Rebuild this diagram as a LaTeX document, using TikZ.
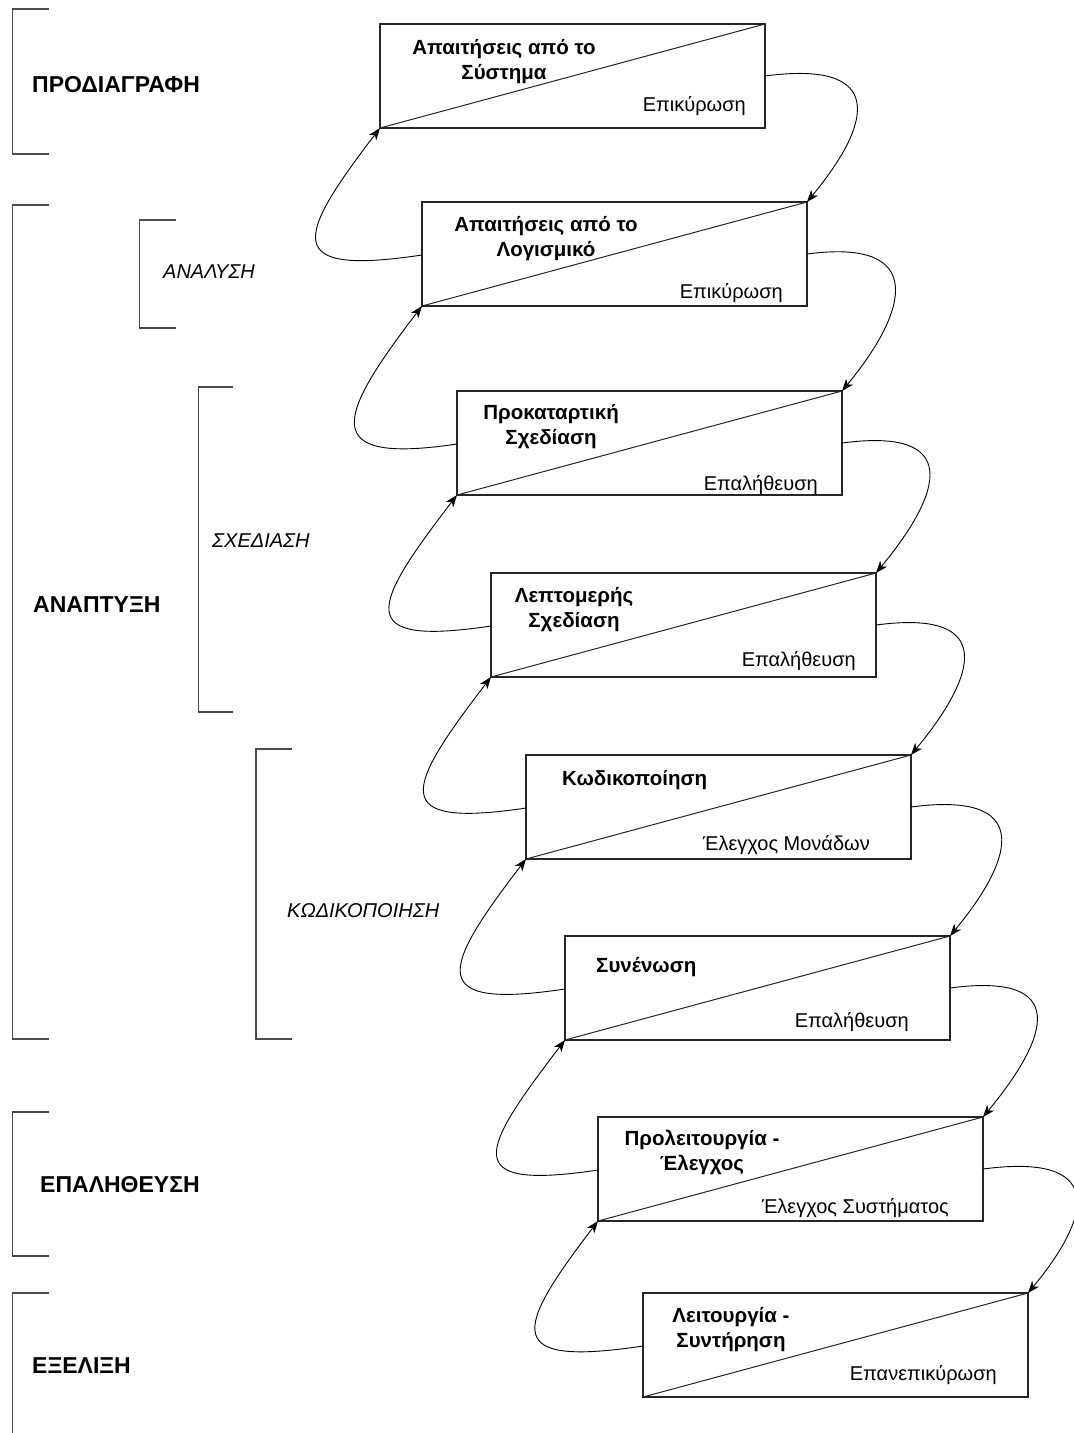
\documentclass[tikz,border=0pt]{standalone}
\usepackage{fontspec}
\setmainfont{Liberation Sans}
\usetikzlibrary{arrows.meta,calc}

\begin{document}
\begin{tikzpicture}[x=1pt,y=-1pt,
  stagebox/.style={draw=black!85, line width=1.2pt, outer sep=0pt, inner sep=0pt,
    minimum width=385pt, minimum height=104pt, anchor=north west},
  title/.style={font=\fontsize{20.5}{24.5}\selectfont\bfseries, align=center, inner sep=0pt, anchor=base},
  titlew/.style={font=\fontsize{20.5}{24.5}\selectfont\bfseries, inner sep=0pt, anchor=base west},
  check/.style={font=\fontsize{20}{24}\selectfont, inner sep=0pt, anchor=base east},
  phase/.style={font=\fontsize{23}{27}\selectfont\bfseries, inner sep=0pt, anchor=base west},
  subphase/.style={font=\fontsize{20}{24}\selectfont\itshape, inner sep=0pt, anchor=base west},
  bracket/.style={draw=black!70, line width=1.3pt},
  flow/.style={draw=black, line width=0.9pt, -{Stealth[length=12pt,width=9pt,inset=3.5pt]}},
  diag/.style={draw=black!85, line width=1pt}
]
\useasboundingbox (0,0) rectangle (1074,1433);

% stage boxes
\node[stagebox] (b1) at (380,24) {};
\node[stagebox] (b2) at (422,202) {};
\node[stagebox] (b3) at (457,391) {};
\node[stagebox] (b4) at (491,573) {};
\node[stagebox] (b5) at (526,755) {};
\node[stagebox] (b6) at (565,936) {};
\node[stagebox] (b7) at (598,1117) {};
\node[stagebox] (b8) at (643,1293) {};

% diagonals splitting each box
\foreach \i in {1,...,8}{
  \draw[diag] (b\i.south west) -- (b\i.north east);
}

% box texts (two-line titles are anchored on the baseline of their last line)
\node[title] (t1) at (504,79) {Απαιτήσεις από το\\Σύστημα};
\node[check] (c1) at (746,111) {Επικύρωση};
\node[title] (t2) at (546,256) {Απαιτήσεις από το\\Λογισμικό};
\node[check] (c2) at (783,298) {Επικύρωση};
\node[title] (t3) at (551,444) {Προκαταρτική\\Σχεδίαση};
\node[check] (c3) at (818,490) {Επαλήθευση};
\node[title] (t4) at (574,627) {Λεπτομερής\\Σχεδίαση};
\node[check] (c4) at (856,666) {Επαλήθευση};
\node[titlew] (t5) at (562,785) {Κωδικοποίηση};
\node[check] (c5) at (870,850) {Έλεγχος Μονάδων};
\node[titlew] (t6) at (596,972) {Συνένωση};
\node[check] (c6) at (909,1027) {Επαλήθευση};
\node[title] (t7) at (702,1170) {Προλειτουργία -\\Έλεγχος};
\node[check] (c7) at (949,1213) {Έλεγχος Συστήματος};
\node[title] (t8) at (731,1347) {Λειτουργία -\\Συντήρηση};
\node[check] (c8) at (997,1380) {Επανεπικύρωση};

% loops between consecutive stages
\foreach \i/\j in {1/2,2/3,3/4,4/5,5/6,6/7,7/8}{
  \coordinate (r\i) at ($(b\i.north east)+(0,52)$);
  \coordinate (l\j) at ($(b\j.north west)+(0,53)$);
  \draw[flow] (r\i) .. controls +(120,-16) and +(67,-81) .. (b\j.north east);
  \draw[flow] (l\j) .. controls +(-140,21) and +(-85,111) .. (b\i.south west);
}

% phase brackets
\draw[bracket] (49,9) -- (12.7,9) -- (12.7,154) -- (49,154);
\draw[bracket] (49,205) -- (12.7,205) -- (12.7,1039) -- (49,1039);
\draw[bracket] (175.7,220) -- (139.3,220) -- (139.3,328) -- (175.7,328);
\draw[bracket] (233.3,387) -- (198.3,387) -- (198.3,712) -- (233.3,712);
\draw[bracket] (292,749) -- (256,749) -- (256,1039) -- (292,1039);
\draw[bracket] (49,1112) -- (12.7,1112) -- (12.7,1256) -- (49,1256);
\draw[bracket] (49,1293) -- (12.7,1293) -- (12.7,1433);

% phase labels
\node[phase] (p1) at (32,92) {ΠΡΟΔΙΑΓΡΑΦΗ};
\node[subphase] (s1) at (163,278) {ΑΝΑΛΥΣΗ};
\node[phase] (p2) at (33,612) {ΑΝΑΠΤΥΞΗ};
\node[subphase] (s2) at (212,547) {ΣΧΕΔΙΑΣΗ};
\node[subphase] (s3) at (287,917) {ΚΩΔΙΚΟΠΟΙΗΣΗ};
\node[phase] (p3) at (40,1192) {ΕΠΑΛΗΘΕΥΣΗ};
\node[phase] (p4) at (32,1373) {ΕΞΕΛΙΞΗ};
\end{tikzpicture}
\end{document}
